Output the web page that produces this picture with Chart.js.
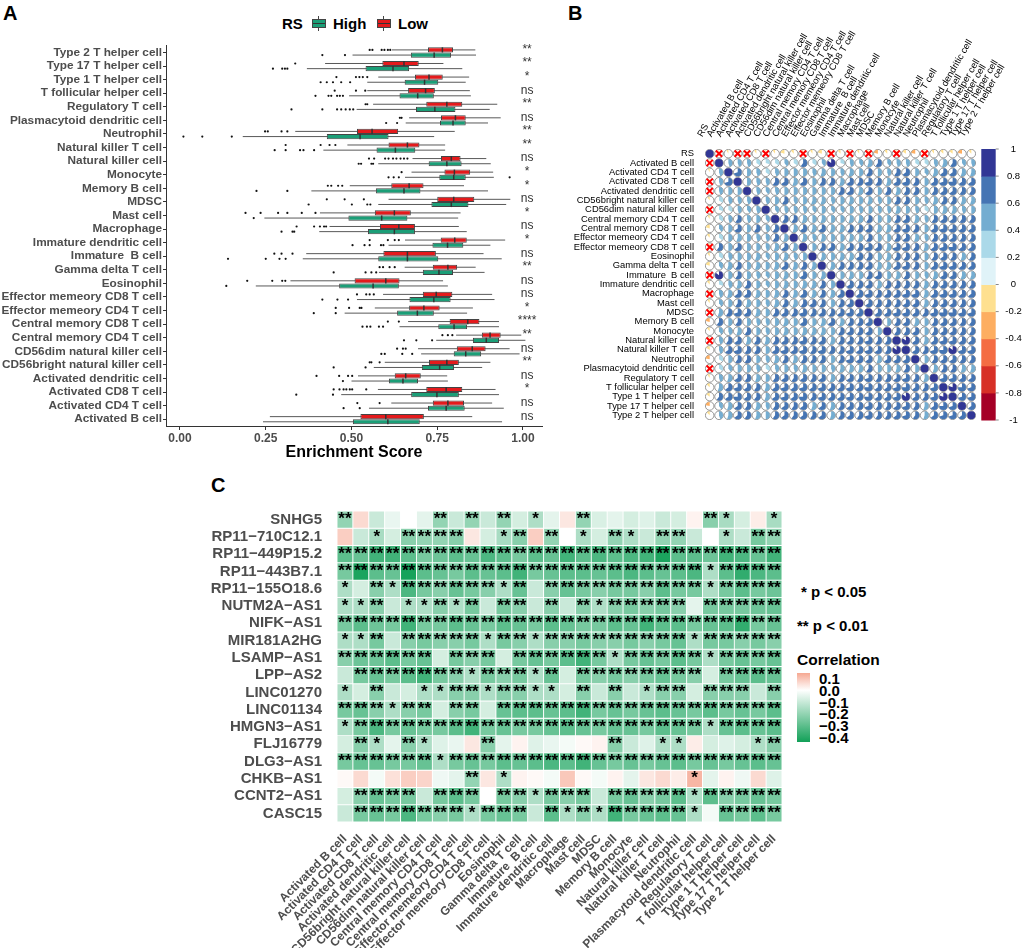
<!DOCTYPE html>
<html>
<head>
<meta charset="utf-8">
<title>Immune infiltration and RS</title>
<script src="https://cdn.jsdelivr.net/npm/chart.js@4.4.1/dist/chart.umd.min.js"></script>
<style>
  html, body { margin: 0; padding: 0; background: #fff; }
  body { position: relative; width: 1024px; height: 948px; overflow: hidden;
         font-family: "Liberation Sans", Arial, sans-serif; }
  canvas { position: absolute; }
  .txt { position: absolute; white-space: pre; font-weight: bold; line-height: 1; color: #000; }
  .tag { font-size: 20px; }
  .key { position: absolute; width: 14px; height: 9px; box-sizing: border-box; border: 1px solid #444; }
  .key i { position: absolute; left: 0; right: 0; top: 3px; height: 1px; background: #333; }
  .key b { position: absolute; left: 5px; width: 1px; height: 3px; background: #444; }
  #cbarC { position: absolute; left: 797px; top: 673px; width: 13px; height: 69px; }
</style>
</head>
<body>
<div class="txt tag" style="left:3px;top:3px">A</div>
<div class="txt tag" style="left:568px;top:3px">B</div>
<div class="txt tag" style="left:211px;top:475px">C</div>

<div class="txt" style="left:282px;top:16px;font-size:15px">RS</div>
<div class="key" style="left:312px;top:19px;background:#1B9E77"><i></i><b style="top:-4px"></b><b style="top:8px"></b></div>
<div class="txt" style="left:333px;top:16px;font-size:15px">High</div>
<div class="key" style="left:377px;top:19px;background:#E41A1C"><i></i><b style="top:-4px"></b><b style="top:8px"></b></div>
<div class="txt" style="left:398px;top:16px;font-size:15px">Low</div>

<canvas id="chartA" width="545" height="470" style="left:0;top:0"></canvas>
<canvas id="chartB" width="484" height="440" style="left:540px;top:0"></canvas>
<canvas id="chartC" width="790" height="453" style="left:0;top:495px"></canvas>

<div class="txt" style="left:801px;top:584px;font-size:15px">* p &lt; 0.05</div>
<div class="txt" style="left:797px;top:618px;font-size:15px">** p &lt; 0.01</div>
<div class="txt" style="left:797px;top:652px;font-size:15.5px">Correlation</div>
<div id="cbarC"></div>
<div id="cbarLabels"></div>

<script>
// cell types, alphabetical (panel B / C order)
const cellTypes = ["Activated B cell", "Activated CD4 T cell", "Activated CD8 T cell", "Activated dendritic cell",
  "CD56bright natural killer cell", "CD56dim natural killer cell", "Central memory CD4 T cell", "Central memory CD8 T cell",
  "Effector memeory CD4 T cell", "Effector memeory CD8 T cell", "Eosinophil", "Gamma delta T cell",
  "Immature  B cell", "Immature dendritic cell", "Macrophage", "Mast cell", "MDSC", "Memory B cell", "Monocyte",
  "Natural killer cell", "Natural killer T cell", "Neutrophil", "Plasmacytoid dendritic cell", "Regulatory T cell",
  "T follicular helper cell", "Type 1 T helper cell", "Type 17 T helper cell", "Type 2 T helper cell"];

//#region data A (boxplots, top to bottom = reverse alphabetical)
const boxCats = cellTypes.slice().reverse();
const xTickVals = [0, 0.25, 0.5, 0.75, 1];

const lowMin = [0.618,0.423,0.578,0.546,0.563,0.668,0.336,0.488,0.678,0.675,0.495,0.608,0.408,0.436,0.656,0.368,0.655,0.322,0.592,0.568,0.665,0.805,0.694,0.597,0.519,0.577,0.616,0.262];
const lowQ1  = [0.723,0.590,0.685,0.665,0.718,0.761,0.516,0.608,0.761,0.771,0.616,0.750,0.568,0.583,0.760,0.593,0.737,0.509,0.708,0.668,0.786,0.880,0.807,0.726,0.626,0.718,0.737,0.526];
const lowMed = [0.765,0.653,0.726,0.716,0.778,0.803,0.560,0.663,0.791,0.800,0.668,0.798,0.625,0.638,0.801,0.663,0.781,0.600,0.747,0.711,0.839,0.904,0.852,0.778,0.658,0.776,0.781,0.600];
const lowQ3  = [0.796,0.696,0.766,0.743,0.823,0.833,0.636,0.698,0.818,0.846,0.710,0.858,0.673,0.685,0.836,0.746,0.808,0.640,0.794,0.757,0.873,0.935,0.891,0.813,0.702,0.823,0.828,0.711];
const lowMax = [0.861,0.768,0.843,0.845,0.925,0.935,0.801,0.773,0.893,0.913,0.828,0.963,0.818,0.813,0.948,0.885,0.862,0.767,0.910,0.854,0.930,0.995,0.961,0.905,0.779,0.920,0.910,0.852];
const lowOut = [
  [0.553,0.561,0.588,0.596,0.606,0.613], [0.336], [0.456,0.513,0.523,0.533,0.546], [0.451,0.513,0.540],
  [0.541,0.546], [0.641,0.646], [0.248,0.256,0.296,0.313], [0.308,0.410,0.436,0.453],
  [0.551,0.566,0.598,0.608,0.621,0.631,0.643,0.653,0.663], [0.646], [0.431,0.441,0.461,0.473], [0.428,0.480,0.536],
  [0.191,0.235,0.286,0.313,0.355,0.395], [0.340,0.391,0.408,0.420,0.426], [0.553,0.606,0.626,0.638], [0.275,0.296,0.328],
  [0.582,0.592,0.611,0.626], [0.196,0.269,0.298,0.307], [0.516,0.543,0.553,0.565], [0.454,0.493,0.524,0.529],
  [0.606,0.638], [0.765,0.781,0.794], [0.633,0.650,0.658], [0.553,0.558,0.582],
  [0.398,0.464,0.490,0.502], [0.448,0.465,0.477,0.485,0.495,0.502,0.543], [0.517,0.582], []
];

const highMin = [0.503,0.370,0.546,0.493,0.515,0.658,0.183,0.418,0.578,0.656,0.383,0.578,0.246,0.406,0.608,0.358,0.580,0.221,0.516,0.480,0.640,0.747,0.703,0.565,0.500,0.470,0.551,0.242];
const highQ1  = [0.673,0.541,0.655,0.640,0.688,0.758,0.428,0.573,0.725,0.756,0.571,0.733,0.491,0.548,0.736,0.578,0.708,0.464,0.669,0.633,0.753,0.854,0.798,0.705,0.609,0.674,0.723,0.504];
const highMed = [0.741,0.621,0.713,0.693,0.743,0.796,0.525,0.628,0.778,0.798,0.653,0.791,0.588,0.625,0.780,0.663,0.755,0.563,0.740,0.692,0.799,0.893,0.833,0.757,0.650,0.749,0.776,0.606];
const highQ3  = [0.790,0.668,0.753,0.740,0.803,0.833,0.608,0.686,0.821,0.833,0.701,0.841,0.663,0.685,0.826,0.753,0.796,0.638,0.789,0.740,0.837,0.930,0.878,0.799,0.694,0.813,0.830,0.699];
const highMax = [0.863,0.823,0.833,0.848,0.903,0.898,0.741,0.773,0.906,0.915,0.898,0.951,0.811,0.836,0.905,0.938,0.888,0.781,0.917,0.837,0.930,1.007,0.990,0.881,0.781,0.930,0.944,0.939];
const highOut = [
  [0.415,0.481], [0.271,0.298,0.306,0.313], [0.410,0.428,0.446,0.470,0.496], [0.395,0.433,0.441,0.458,0.466,0.475],
  [0.325,0.415,0.458,0.470,0.483,0.495,0.505], [0.601,0.633], [0.010,0.065,0.151], [0.276,0.308,0.350,0.360,0.391],
  [0.521,0.528,0.558,0.563], [0.608,0.623,0.638,0.961], [0.223,0.313], [0.375,0.501,0.546,0.555],
  [0.215], [0.296,0.328,0.333], [0.503,0.538,0.553,0.586,0.593], [0.140,0.250,0.290,0.308],
  [0.448,0.541,0.558,0.572], [0.135], [0.415,0.459,0.490], [0.390,0.454],
  [0.532,0.545,0.555,0.580,0.592], [0.653,0.689,0.735], [0.587,0.597,0.648,0.677], [0.448,0.541],
  [0.475], [0.339,0.446], [0.477,0.524], []
];
const sigLabels = ["**","**","*","ns","**","ns","**","**","ns","*","*","ns","*","ns","*","ns","**","ns","ns","*","****","**","ns","**","ns","*","ns","ns"];
//#endregion

//#region data B (correlation matrix, lower triangle)
const corrNames = ["RS"].concat(cellTypes);
const rsCorr = [-0.03,-0.08,-0.02,0.02,-0.1,-0.04,-0.1,-0.2,-0.12,-0.05,-0.1,-0.2,-0.03,-0.12,-0.05,-0.1,-0.06,-0.21,-0.12,-0.05,-0.16,-0.22,-0.04,-0.1,-0.13,-0.15,-0.22,-0.12];
const rsNotSig = [1, 3, 4, 6, 10, 13, 15, 17, 20, 23];
const immuneCorr = [
  [],
  [0.45],
  [0.45,0.7],
  [0.45,0.5,0.5],
  [0.35,0.45,0.45,0.45],
  [0.3,0.35,0.45,0.4,0.45],
  [0.35,0.45,0.6,0.45,0.5,0.4],
  [0.4,0.5,0.65,0.5,0.6,0.45,0.6],
  [0.35,0.5,0.55,0.5,0.45,0.45,0.6,0.55],
  [0.6,0.5,0.65,0.5,0.5,0.45,0.55,0.65,0.55],
  [0.35,0.45,0.5,0.5,0.55,0.4,0.5,0.55,0.45,0.5],
  [0.4,0.55,0.6,0.5,0.55,0.5,0.55,0.65,0.55,0.6,0.55],
  [0.85,0.5,0.6,0.5,0.45,0.4,0.5,0.55,0.5,0.65,0.5,0.55],
  [0.3,0.45,0.55,0.6,0.5,0.4,0.5,0.55,0.5,0.55,0.55,0.6,0.5],
  [0.45,0.55,0.65,0.65,0.55,0.5,0.55,0.6,0.55,0.65,0.55,0.6,0.55,0.65],
  [0.4,0.5,0.6,0.55,0.5,0.45,0.55,0.6,0.55,0.6,0.65,0.6,0.5,0.6,0.65],
  [0.55,0.6,0.7,0.65,0.55,0.5,0.6,0.65,0.6,0.7,0.6,0.65,0.6,0.65,0.7,0.65],
  [0.6,0.5,0.6,0.5,0.45,0.45,0.5,0.55,0.5,0.65,0.5,0.55,0.65,0.55,0.6,0.6,0.65],
  [0.4,0.45,0.55,0.6,0.5,0.45,0.5,0.55,0.5,0.55,0.55,0.55,0.5,0.6,0.65,0.6,0.65,0.5],
  [0.45,0.6,0.65,0.55,0.6,0.55,0.6,0.65,0.6,0.7,0.6,0.65,0.55,0.6,0.65,0.6,0.7,0.6,0.6],
  [0.45,0.65,0.7,0.6,0.6,0.5,0.65,0.7,0.65,0.7,0.6,0.7,0.6,0.6,0.7,0.65,0.7,0.65,0.6,0.85],
  [0.35,0.5,0.6,0.6,0.5,0.45,0.55,0.6,0.55,0.6,0.6,0.6,0.5,0.6,0.7,0.65,0.65,0.55,0.65,0.65,0.65],
  [0.35,0.4,0.5,0.5,0.45,0.35,0.45,0.5,0.45,0.55,0.5,0.5,0.45,0.55,0.55,0.55,0.6,0.5,0.5,0.55,0.6,0.5],
  [0.45,0.55,0.65,0.6,0.55,0.5,0.6,0.65,0.6,0.65,0.6,0.65,0.55,0.6,0.65,0.6,0.7,0.6,0.6,0.65,0.7,0.6,0.55],
  [0.55,0.65,0.7,0.65,0.6,0.55,0.65,0.7,0.65,0.7,0.65,0.7,0.65,0.65,0.7,0.65,0.75,0.65,0.65,0.7,0.75,0.65,0.6,0.7],
  [0.6,0.65,0.75,0.65,0.6,0.55,0.65,0.7,0.65,0.75,0.6,0.7,0.65,0.65,0.7,0.65,0.75,0.65,0.65,0.7,0.85,0.65,0.6,0.7,0.8],
  [0.4,0.55,0.65,0.6,0.55,0.45,0.6,0.65,0.6,0.65,0.55,0.65,0.55,0.6,0.65,0.6,0.7,0.6,0.6,0.65,0.7,0.6,0.55,0.65,0.75,0.7],
  [0.45,0.55,0.65,0.6,0.55,0.5,0.6,0.65,0.6,0.65,0.6,0.65,0.55,0.6,0.65,0.6,0.7,0.6,0.6,0.65,0.7,0.6,0.55,0.65,0.7,0.7,0.65]
];
const corrColors = ["#A50026","#D73027","#F46D43","#FDAE61","#FEE090","#E0F3F8","#ABD9E9","#74ADD1","#4575B4","#313695"];
const cbTicks = [1, 0.8, 0.6, 0.4, 0.2, 0, -0.2, -0.4, -0.6, -0.8, -1];
//#endregion

//#region data C (lncRNA x immune cell heatmap, top to bottom)
const heatRows = ["SNHG5","RP11\u2212710C12.1","RP11\u2212449P15.2","RP11\u2212443B7.1","RP11\u2212155O18.6","NUTM2A\u2212AS1",
  "NIFK\u2212AS1","MIR181A2HG","LSAMP\u2212AS1","LPP\u2212AS2","LINC01270","LINC01134","HMGN3\u2212AS1","FLJ16779",
  "DLG3\u2212AS1","CHKB\u2212AS1","CCNT2\u2212AS1","CASC15"];
const heatVals = [
  [-0.2,0.06,-0.1,-0.04,0.0,-0.05,-0.2,-0.1,-0.2,-0.1,-0.2,-0.08,-0.15,-0.05,0.04,-0.2,-0.07,-0.05,-0.08,-0.06,-0.1,-0.08,0.02,-0.22,-0.16,-0.08,0.03,-0.16],
  [0.08,-0.1,-0.16,-0.08,-0.22,-0.2,-0.2,-0.22,0.04,-0.08,-0.16,-0.22,0.08,-0.2,0.0,-0.15,-0.08,-0.2,-0.15,-0.1,-0.2,-0.2,-0.1,0.0,-0.15,-0.1,-0.25,-0.2],
  [-0.3,-0.28,-0.35,-0.35,-0.3,-0.25,-0.27,-0.3,-0.28,-0.33,-0.3,-0.25,-0.3,-0.28,-0.35,-0.3,-0.33,-0.3,-0.33,-0.35,-0.42,-0.3,-0.3,-0.27,-0.35,-0.33,-0.28,-0.35],
  [-0.25,-0.42,-0.3,-0.28,-0.43,-0.3,-0.28,-0.25,-0.3,-0.28,-0.3,-0.35,-0.25,-0.28,-0.3,-0.3,-0.28,-0.3,-0.33,-0.3,-0.28,-0.3,-0.33,-0.15,-0.3,-0.38,-0.33,-0.3],
  [-0.15,-0.08,-0.22,-0.15,-0.33,-0.25,-0.22,-0.28,-0.25,-0.22,-0.15,-0.28,-0.1,-0.22,-0.28,-0.25,-0.22,-0.25,-0.25,-0.22,-0.3,-0.25,-0.25,-0.15,-0.25,-0.3,-0.25,-0.27],
  [-0.15,-0.15,-0.22,-0.1,-0.15,-0.15,-0.22,-0.15,-0.25,-0.1,-0.25,-0.22,-0.1,-0.22,-0.1,-0.22,-0.15,-0.22,-0.25,-0.22,-0.25,-0.22,-0.05,-0.25,-0.25,-0.25,-0.27,-0.28],
  [-0.25,-0.3,-0.27,-0.25,-0.35,-0.25,-0.25,-0.3,-0.28,-0.25,-0.3,-0.28,-0.25,-0.3,-0.28,-0.25,-0.25,-0.3,-0.28,-0.35,-0.3,-0.3,-0.25,-0.28,-0.3,-0.38,-0.25,-0.28],
  [-0.15,-0.15,-0.25,-0.1,-0.22,-0.25,-0.22,-0.22,-0.25,-0.15,-0.25,-0.22,-0.15,-0.22,-0.22,-0.25,-0.22,-0.22,-0.25,-0.22,-0.25,-0.28,-0.15,-0.25,-0.25,-0.22,-0.25,-0.22],
  [-0.22,-0.27,-0.27,-0.3,-0.25,-0.28,-0.08,-0.25,-0.22,-0.25,-0.08,-0.25,-0.28,-0.25,-0.3,-0.35,-0.25,-0.15,-0.25,-0.28,-0.25,-0.3,-0.25,-0.15,-0.25,-0.28,-0.25,-0.28],
  [-0.1,-0.25,-0.28,-0.25,-0.3,-0.35,-0.25,-0.22,-0.15,-0.25,-0.22,-0.25,-0.15,-0.28,-0.08,-0.25,-0.22,-0.25,-0.22,-0.25,-0.28,-0.25,-0.22,-0.08,-0.25,-0.28,-0.3,-0.28],
  [-0.15,-0.08,-0.22,-0.1,-0.08,-0.15,-0.15,-0.22,-0.22,-0.15,-0.22,-0.22,-0.15,-0.15,-0.08,-0.22,-0.1,-0.22,-0.1,-0.15,-0.22,-0.22,-0.08,-0.22,-0.22,-0.22,-0.1,-0.22],
  [-0.25,-0.28,-0.22,-0.15,-0.22,-0.25,-0.08,-0.22,-0.25,-0.08,-0.28,-0.3,-0.3,-0.28,-0.3,-0.35,-0.25,-0.28,-0.25,-0.28,-0.3,-0.28,-0.25,-0.3,-0.25,-0.28,-0.25,-0.3],
  [-0.15,-0.25,-0.33,-0.25,-0.28,-0.25,-0.25,-0.3,-0.35,-0.25,-0.28,-0.25,-0.25,-0.28,-0.3,-0.28,-0.25,-0.28,-0.28,-0.25,-0.3,-0.28,-0.25,-0.15,-0.28,-0.3,-0.28,-0.3],
  [-0.08,-0.22,-0.15,-0.05,-0.22,-0.15,-0.06,-0.04,0.04,-0.22,-0.05,0.02,-0.06,-0.04,-0.02,0.01,0.02,-0.22,-0.1,-0.06,-0.15,-0.15,0.03,-0.08,-0.06,-0.08,-0.15,-0.22],
  [-0.25,-0.28,-0.28,-0.25,-0.25,-0.28,-0.15,-0.25,-0.28,-0.25,-0.3,-0.28,-0.3,-0.33,-0.3,-0.35,-0.28,-0.25,-0.28,-0.25,-0.28,-0.3,-0.25,-0.28,-0.25,-0.28,-0.3,-0.28],
  [0.01,0.06,-0.02,0.05,0.08,0.07,-0.03,-0.05,-0.2,0.04,-0.15,0.02,0.01,-0.02,0.09,0.01,-0.02,0.02,-0.05,0.04,0.06,0.03,0.12,-0.05,0.02,-0.03,0.06,-0.06],
  [-0.08,-0.22,-0.28,-0.25,-0.25,-0.1,-0.25,-0.3,-0.25,0.0,-0.25,-0.22,-0.15,-0.25,-0.22,-0.25,-0.1,-0.25,-0.28,-0.22,-0.25,-0.3,-0.15,-0.3,-0.22,-0.25,-0.28,-0.25],
  [-0.1,-0.25,-0.28,-0.25,-0.33,-0.25,-0.22,-0.25,-0.15,-0.25,-0.28,-0.25,-0.1,-0.3,-0.15,-0.22,-0.15,-0.35,-0.25,-0.28,-0.3,-0.28,-0.15,-0.02,-0.28,-0.25,-0.3,-0.25]
];
// 0 = none, 1 = "*", 2 = "**"
const heatStars = [
  "2000002020201002000000021001",
  "0010222200120201021022001022",
  "2222222222222222222222222222",
  "2222222222222222222222212222",
  "1021222222120222222222212222",
  "1120112120220202122222022222",
  "2222222222222222222222222222",
  "1120222221221222222222122222",
  "2222220222022222212222212222",
  "0222222212221202222222202222",
  "1020011221221102020122022202",
  "2221220220222222222222222222",
  "1222222222222222222222212222",
  "0210210002000000020011000012",
  "2222221222222222222222222222",
  "0000000020100000000000100000",
  "0222202220221222022222122222",
  "0222222212220212122222102222"
];
const corrTicks = [0.1, 0, -0.1, -0.2, -0.3, -0.4];
//#endregion

Chart.defaults.font.family = '"Liberation Sans", Arial, sans-serif';
Chart.defaults.animation = false;

//#region A - boxplots
const boxGroups = [
  { min: lowMin, med: lowMed, max: lowMax, out: lowOut },
  { min: highMin, med: highMed, max: highMax, out: highOut }
];

const boxParts = {
  id: "boxParts",
  beforeDatasetsDraw(chart) {
    const { ctx, scales: { x } } = chart;
    ctx.save();
    ctx.strokeStyle = "#595959";
    ctx.lineWidth = 1;
    boxGroups.forEach((g, di) => {
      chart.getDatasetMeta(di).data.forEach((bar, i) => {
        ctx.beginPath();
        ctx.moveTo(x.getPixelForValue(g.min[i]), bar.y);
        ctx.lineTo(x.getPixelForValue(g.max[i]), bar.y);
        ctx.stroke();
      });
    });
    ctx.restore();
  },
  afterDatasetsDraw(chart) {
    const { ctx, scales: { x, y } } = chart;
    ctx.save();
    boxGroups.forEach((g, di) => {
      chart.getDatasetMeta(di).data.forEach((bar, i) => {
        const h = bar.height / 2;
        const mx = x.getPixelForValue(g.med[i]);
        ctx.strokeStyle = "#333";
        ctx.lineWidth = 1.5;
        ctx.beginPath();
        ctx.moveTo(mx, bar.y - h);
        ctx.lineTo(mx, bar.y + h);
        ctx.stroke();
        ctx.fillStyle = "#111";
        g.out[i].forEach(v => {
          ctx.beginPath();
          ctx.arc(x.getPixelForValue(v), bar.y, 1.1, 0, Math.PI * 2);
          ctx.fill();
        });
      });
    });
    // significance marks
    ctx.fillStyle = "#333";
    ctx.font = '12px "Liberation Sans", Arial, sans-serif';
    ctx.textAlign = "center";
    ctx.textBaseline = "middle";
    sigLabels.forEach((s, i) => {
      ctx.fillText(s, x.getPixelForValue(1.012), y.getPixelForValue(i) - 3);
    });
    ctx.restore();
  }
};

new Chart(document.getElementById("chartA"), {
  type: "bar",
  data: {
    labels: boxCats,
    datasets: [
      { label: "Low", data: lowQ1.map((q, i) => [q, lowQ3[i]]), backgroundColor: "#E41A1C",
        borderColor: "#444", borderWidth: 1, borderSkipped: false, categoryPercentage: 0.76, barPercentage: 1 },
      { label: "High", data: highQ1.map((q, i) => [q, highQ3[i]]), backgroundColor: "#1B9E77",
        borderColor: "#444", borderWidth: 1, borderSkipped: false, categoryPercentage: 0.76, barPercentage: 1 }
    ]
  },
  options: {
    indexAxis: "y",
    responsive: false,
    layout: { padding: { top: 45.7, right: 3 } },
    plugins: { legend: { display: false }, tooltip: { enabled: false } },
    scales: {
      x: {
        min: -0.0408, max: 1.0554,
        afterBuildTicks: s => { s.ticks = xTickVals.map(v => ({ value: v })); },
        afterFit: s => { s.height = 44; },
        ticks: { callback: v => v.toFixed(2), color: "#4D4D4D", font: { size: 12, weight: "bold" }, padding: 1, maxRotation: 0 },
        grid: { display: true, drawOnChartArea: false, tickLength: 4, color: "#333" },
        border: { display: true, color: "#333", width: 1 },
        title: { display: true, text: "Enrichment Score", color: "#000", font: { size: 16, weight: "bold" }, padding: { top: 0, bottom: 8 } }
      },
      y: {
        afterFit: s => { s.width = 166; },
        ticks: { color: "#4D4D4D", font: { size: 11.8, weight: "bold" }, padding: 1, autoSkip: false },
        grid: { display: true, drawOnChartArea: false, offset: false, tickLength: 3, color: "#333" },
        border: { display: true, color: "#333", width: 1 }
      }
    }
  },
  plugins: [boxParts]
});
//#endregion

//#region B - corrplot pies
function corrAt(r, c) {
  if (r === c) return 1;
  const a = Math.max(r, c), b = Math.min(r, c);
  if (b === 0) return rsCorr[a - 1];
  return immuneCorr[a - 1][b - 1];
}
function corrColor(v) {
  return corrColors[Math.min(9, Math.max(0, Math.floor((v + 1) / 0.2 + 1e-9)))];
}

const pieData = [];
corrNames.forEach((_, r) => corrNames.forEach((_, c) => pieData.push({ x: c, y: r, v: corrAt(r, c) })));
const nsData = [];
rsNotSig.forEach(k => { nsData.push({ x: k, y: 0 }); nsData.push({ x: 0, y: k }); });

const cellR = chart => (chart.chartArea ? chart.chartArea.width / corrNames.length : 9.3) * 0.46;

const piePlugin = {
  id: "pies",
  afterDatasetDraw(chart, args) {
    if (chart.data.datasets[args.index].label !== "pie") return;
    const ctx = chart.ctx;
    const rad = cellR(chart) - 0.3;
    ctx.save();
    args.meta.data.forEach((pt, i) => {
      const v = pieData[i].v;
      const start = -Math.PI / 2;
      ctx.beginPath();
      ctx.moveTo(pt.x, pt.y);
      ctx.arc(pt.x, pt.y, rad, start, start + 2 * Math.PI * v, v < 0);
      ctx.closePath();
      ctx.fillStyle = corrColor(v);
      ctx.fill();
    });
    ctx.restore();
  },
  afterDraw(chart) {
    const { ctx, chartArea: a } = chart;
    const x0 = a.right + 5.3, w = 14.4, h = a.bottom - a.top;
    const yOf = v => a.top + (1 - v) / 2 * h;
    ctx.save();
    corrColors.forEach((col, k) => {
      const y1 = yOf(-0.8 + 0.2 * k), y2 = yOf(-1 + 0.2 * k);
      ctx.fillStyle = col;
      ctx.fillRect(x0, y1, w, y2 - y1 + 0.5);
    });
    ctx.strokeStyle = "#888";
    ctx.lineWidth = 1;
    ctx.fillStyle = "#000";
    ctx.font = '9.5px "Liberation Sans", Arial, sans-serif';
    ctx.textAlign = "center";
    ctx.textBaseline = "middle";
    cbTicks.forEach(v => {
      const ty = yOf(v);
      ctx.beginPath();
      ctx.moveTo(x0 + w, ty);
      ctx.lineTo(x0 + w + 3, ty);
      ctx.stroke();
      ctx.fillText(String(Number(v.toFixed(1))), x0 + w + 17.8, ty);
    });
    ctx.restore();
  }
};

const nameTick = { autoSkip: false, color: "#000", font: { size: 9.4 }, callback: v => corrNames[v] };
new Chart(document.getElementById("chartB"), {
  type: "scatter",
  data: {
    datasets: [
      { label: "ns", data: nsData, pointStyle: "crossRot", pointRadius: 4.4, borderColor: "#FF0000",
        borderWidth: 2, backgroundColor: "#FF0000", order: 1 },
      { label: "pie", data: pieData, pointRadius: cellR, backgroundColor: "#fff",
        borderColor: "#6E6E6E", borderWidth: 0.7, order: 2 }
    ]
  },
  options: {
    responsive: false,
    layout: { padding: { right: 48, bottom: 20 } },
    plugins: { legend: { display: false }, tooltip: { enabled: false } },
    scales: {
      x: {
        type: "linear", position: "top", min: -0.5, max: 28.5,
        afterBuildTicks: s => { s.ticks = corrNames.map((_, i) => ({ value: i })); },
        afterFit: s => { s.height = 149; },
        ticks: Object.assign({ minRotation: 60, maxRotation: 60, padding: 2 }, nameTick),
        grid: { display: false }, border: { display: false }
      },
      y: {
        type: "linear", reverse: true, min: -0.5, max: 28.5,
        afterBuildTicks: s => { s.ticks = corrNames.map((_, i) => ({ value: i })); },
        afterFit: s => { s.width = 165; },
        ticks: Object.assign({ padding: 3 }, nameTick),
        grid: { display: false }, border: { display: false }
      }
    }
  },
  plugins: [piePlugin]
});
//#endregion

//#region C - heatmap
function mix(a, b, t) {
  return "rgb(" + a.map((c, i) => Math.round(c + (b[i] - c) * t)).join(",") + ")";
}
function heatColor(v) {
  return v >= 0 ? mix([255, 255, 255], [246, 168, 146], Math.min(v / 0.143, 1))
                : mix([255, 255, 255], [18, 160, 88], Math.min(-v / 0.437, 1));
}

const nRows = heatRows.length;
const starPlugin = {
  id: "stars",
  afterDatasetsDraw(chart) {
    const ctx = chart.ctx;
    ctx.save();
    ctx.fillStyle = "#000";
    ctx.font = 'bold 17px "Liberation Sans", Arial, sans-serif';
    ctx.textAlign = "center";
    ctx.textBaseline = "middle";
    heatRows.forEach((_, r) => {
      chart.getDatasetMeta(r).data.forEach((bar, c) => {
        const n = Number(heatStars[r][c]);
        if (n) ctx.fillText("*".repeat(n), bar.x, (bar.y + bar.base) / 2);
      });
    });
    ctx.restore();
  }
};

new Chart(document.getElementById("chartC"), {
  type: "bar",
  data: {
    labels: cellTypes,
    datasets: heatRows.map((name, r) => ({
      label: name,
      data: cellTypes.map(() => [nRows - 1 - r, nRows - r]),
      backgroundColor: heatVals[r].map(heatColor),
      borderColor: "#fff", borderWidth: 0.8, borderSkipped: false,
      grouped: false, barPercentage: 1, categoryPercentage: 1
    }))
  },
  options: {
    responsive: false,
    layout: { padding: { top: 8, right: 8 } },
    plugins: { legend: { display: false }, tooltip: { enabled: false } },
    scales: {
      x: {
        afterFit: s => { s.height = 126; },
        ticks: { autoSkip: false, minRotation: 45, maxRotation: 45, padding: 2, color: "#4D4D4D", font: { size: 12, weight: "bold" } },
        grid: { display: false }, border: { display: false }
      },
      y: {
        min: 0, max: nRows,
        afterBuildTicks: s => { s.ticks = heatRows.map((_, r) => ({ value: nRows - 0.5 - r })); },
        afterFit: s => { s.width = 337; },
        ticks: { autoSkip: false, padding: 7, color: "#4D4D4D", font: { size: 15, weight: "bold" },
                 callback: v => heatRows[Math.round(nRows - 0.5 - v)] },
        grid: { display: false }, border: { display: false }
      }
    }
  },
  plugins: [starPlugin]
});

// colour bar legend of C
const barTop = 0.143, barBottom = -0.437;
const stops = [];
for (let k = 0; k <= 12; k++) {
  const v = barTop + (barBottom - barTop) * k / 12;
  stops.push(heatColor(v) + " " + (k / 12 * 100).toFixed(1) + "%");
}
document.getElementById("cbarC").style.background = "linear-gradient(to bottom, " + stops.join(", ") + ")";
const lab = document.getElementById("cbarLabels");
corrTicks.forEach(v => {
  const d = document.createElement("div");
  d.className = "txt";
  d.style.fontSize = "15px";
  d.style.left = "819px";
  d.style.top = (690 - v * 119 - 7.4) + "px";
  d.textContent = v.toFixed(1).replace("-", "\u2212");
  lab.appendChild(d);
});
//#endregion
</script>
</body>
</html>
